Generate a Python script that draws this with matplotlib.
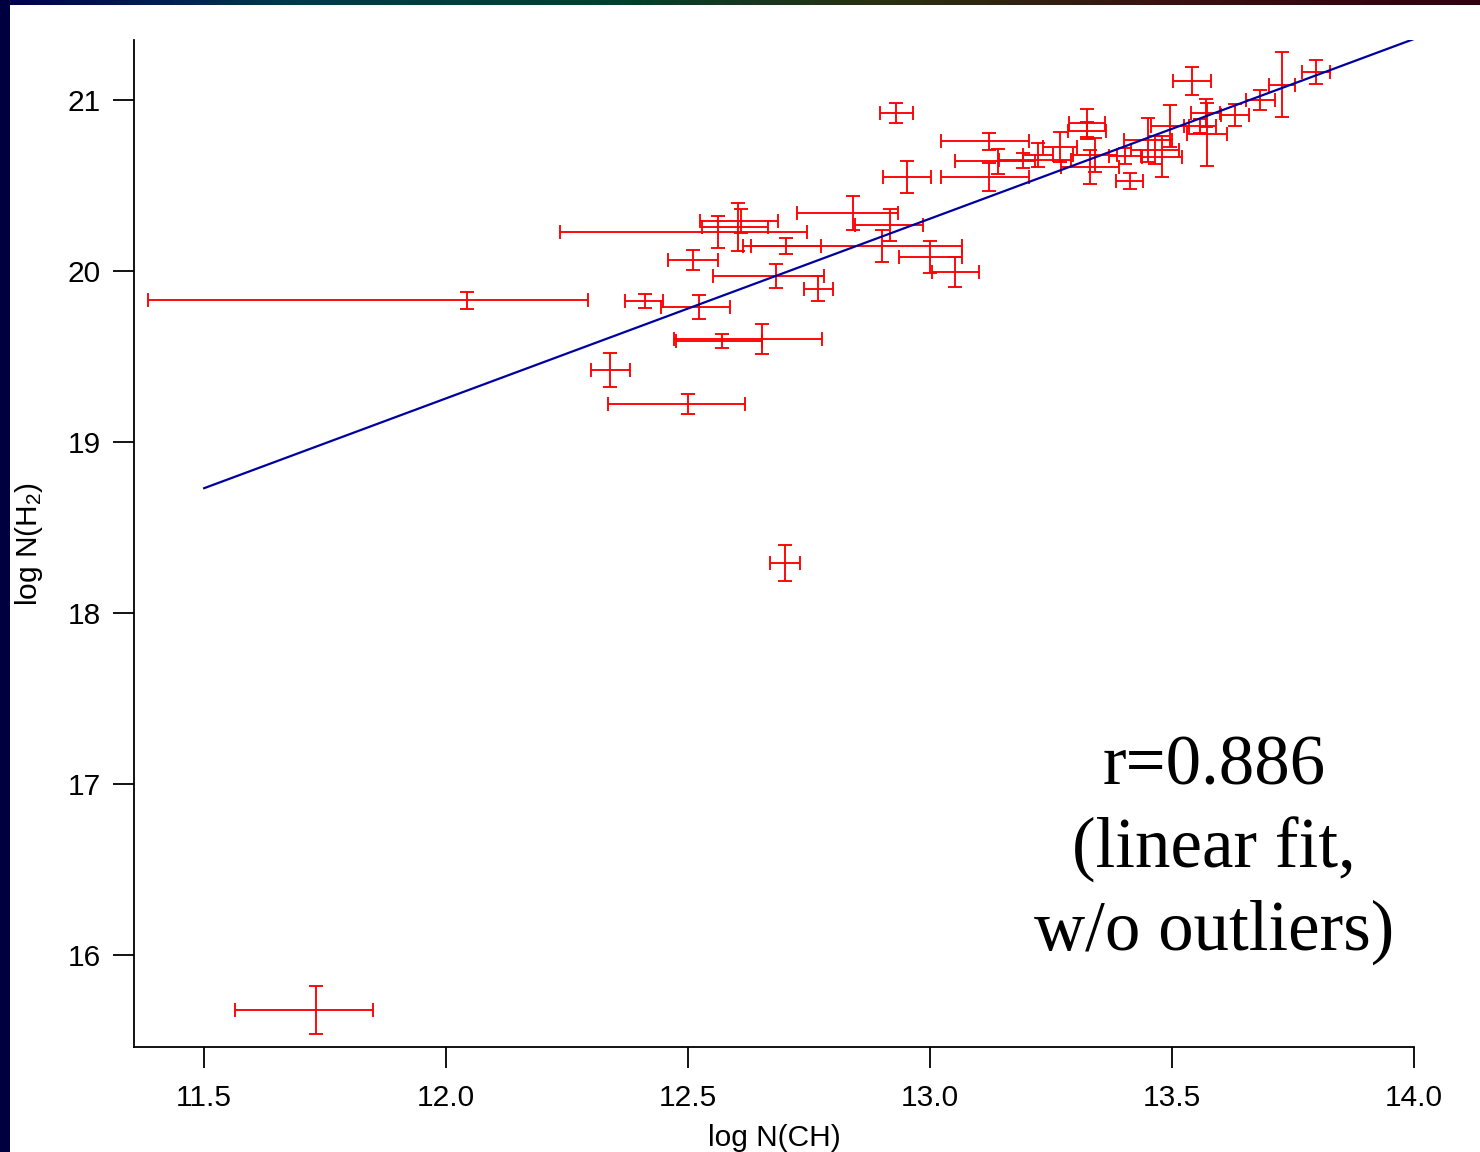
import numpy as np
import matplotlib
matplotlib.use("Agg")
import matplotlib.pyplot as plt
from matplotlib.colors import LinearSegmentedColormap
from matplotlib.patches import Rectangle

plt.rcParams['font.family'] = ['Liberation Sans', 'DejaVu Sans']
plt.rcParams['mathtext.default'] = 'regular'

# log N(CH), log N(H2) with asymmetric error bars
log_ch = [11.731, 12.043, 12.700, 12.339, 12.500, 12.570, 12.653, 12.523, 12.411, 12.769,
          12.682, 12.510, 12.702, 12.901, 12.562, 12.610, 12.603, 12.841, 12.917, 13.000,
          13.052, 12.930, 12.952, 13.122, 13.122, 13.140, 13.192, 13.223, 13.269, 13.324,
          13.324, 13.341, 13.331, 13.403, 13.413, 13.479, 13.450, 13.496, 13.465, 13.541,
          13.572, 13.570, 13.558, 13.630, 13.682, 13.727, 13.797]
ch_lo = [0.167, 0.659, 0.031, 0.040, 0.165, 0.094, 0.183, 0.078, 0.042, 0.030,
         0.130, 0.051, 0.072, 0.287, 0.326, 0.085, 0.074, 0.116, 0.072, 0.065,
         0.049, 0.034, 0.050, 0.099, 0.099, 0.089, 0.050, 0.030, 0.035, 0.037,
         0.040, 0.045, 0.060, 0.033, 0.028, 0.041, 0.050, 0.040, 0.050, 0.040,
         0.041, 0.030, 0.033, 0.029, 0.030, 0.027, 0.029]
ch_hi = [0.118, 0.250, 0.031, 0.040, 0.118, 0.082, 0.123, 0.063, 0.037, 0.030,
         0.098, 0.051, 0.072, 0.165, 0.184, 0.076, 0.062, 0.093, 0.068, 0.065,
         0.049, 0.034, 0.050, 0.083, 0.083, 0.076, 0.100, 0.030, 0.035, 0.037,
         0.040, 0.045, 0.060, 0.033, 0.028, 0.041, 0.050, 0.040, 0.050, 0.040,
         0.041, 0.030, 0.033, 0.029, 0.030, 0.027, 0.029]
log_h2 = [15.678, 19.830, 18.292, 19.421, 19.222, 19.591, 19.602, 19.789, 19.825, 19.895,
          19.971, 20.064, 20.146, 20.146, 20.228, 20.292, 20.257, 20.339, 20.269, 20.082,
          19.994, 20.924, 20.550, 20.760, 20.550, 20.643, 20.649, 20.678, 20.725, 20.865,
          20.820, 20.678, 20.608, 20.673, 20.526, 20.667, 20.766, 20.848, 20.708, 21.111,
          20.801, 20.924, 20.848, 20.912, 21.000, 21.088, 21.164]
h2_err = [0.140, 0.050, 0.105, 0.097, 0.058, 0.040, 0.090, 0.068, 0.040, 0.073,
          0.070, 0.060, 0.049, 0.093, 0.093, 0.068, 0.140, 0.100, 0.093, 0.093,
          0.090, 0.058, 0.093, 0.050, 0.083, 0.073, 0.044, 0.070, 0.088, 0.080,
          0.050, 0.100, 0.100, 0.045, 0.049, 0.120, 0.130, 0.120, 0.080, 0.083,
          0.184, 0.080, 0.040, 0.063, 0.060, 0.190, 0.068]

# linear fit without outliers
fit_x = [11.5, 14.0]
fit_y = [18.73, 21.357]

fig = plt.figure(figsize=(14.8, 11.52), dpi=100)
fig.patch.set_facecolor('white')

# slide decoration: dark strip on the left, coloured strip on top
fig.patches.append(Rectangle((0, 0), 10 / 1480, 1, transform=fig.transFigure,
                             facecolor='#000040', edgecolor='none', zorder=0))
top = fig.add_axes([0, 1 - 5 / 1152, 1, 5 / 1152])
cmap = LinearSegmentedColormap.from_list('strip', ['#000050', '#003a4a', '#004030',
                                                   '#2a3010', '#3a1010', '#300010'])
top.imshow(np.linspace(0, 1, 256)[None, :], aspect='auto', cmap=cmap)
top.axis('off')

ax = fig.add_axes([134 / 1480, 105 / 1152, 1280 / 1480, 1007 / 1152])
ax.errorbar(log_ch, log_h2, xerr=[ch_lo, ch_hi], yerr=h2_err, fmt='none',
            ecolor='#ff0000', elinewidth=1.35, capsize=5, capthick=1.35)
ax.plot(fit_x, fit_y, color='#0000a0', linewidth=1.6)

ax.set_xlim(11.355, 14.0)
ax.set_ylim(15.462, 21.351)
ax.set_xticks([11.5, 12.0, 12.5, 13.0, 13.5, 14.0])
ax.set_xticklabels(['11.5', '12.0', '12.5', '13.0', '13.5', '14.0'])
ax.set_yticks([16, 17, 18, 19, 20, 21])
for side in ['top', 'right']:
    ax.spines[side].set_visible(False)
for side in ['left', 'bottom']:
    ax.spines[side].set_linewidth(1.3)
ax.tick_params(direction='out', length=15, width=1.3, labelsize=21.5)
ax.tick_params(axis='x', pad=12)
ax.tick_params(axis='y', pad=9)

ax.set_xlabel('log N(CH)', fontsize=21.5, labelpad=8)
ax.set_ylabel('log N(H$_2$)', fontsize=21.5, labelpad=16)

ax.text(13.587, 16.614, 'r=0.886\n(linear fit,\nw/o outliers)',
        family=['Liberation Serif', 'DejaVu Serif'], fontsize=51,
        ha='center', va='center', multialignment='center', linespacing=1.34)

fig.savefig('out.png', dpi=100)
